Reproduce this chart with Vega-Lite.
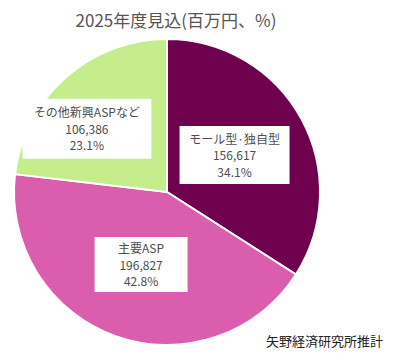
{
  "$schema": "https://vega.github.io/schema/vega-lite/v6.json",
  "width": 304,
  "height": 304,
  "padding": {"left": 10, "top": 13, "right": 5, "bottom": 5},
  "background": "white",
  "config": {"view": {"stroke": null}},
  "title": {
    "text": "2025年度見込(百万円、%)",
    "font": "Noto Sans CJK JP",
    "fontSize": 17,
    "fontWeight": "normal",
    "color": "#555555",
    "anchor": "middle",
    "frame": "group",
    "dx": 9,
    "offset": 4
  },
  "data": {
    "values": [
      {"cat": "モール型·独自型", "value": 156617, "pct": 34.1},
      {"cat": "主要ASP", "value": 196827, "pct": 42.8},
      {"cat": "その他新興ASPなど", "value": 106386, "pct": 23.1}
    ]
  },
  "transform": [
    {"joinaggregate": [{"op": "sum", "field": "value", "as": "total"}]},
    {"window": [{"op": "row_number", "as": "rk"}]},
    {"stack": "value", "groupby": [], "sort": [{"field": "rk", "order": "ascending"}], "as": ["v0", "v1"]},
    {"calculate": "PI * (datum.v0 + datum.v1) / datum.total", "as": "ang"},
    {"calculate": "datum.cat === 'その他新興ASPなど' ? 98 : 77", "as": "rr"},
    {"calculate": "datum.rr * sin(datum.ang) + (datum.cat === 'その他新興ASPなど' ? -15 : 0)", "as": "cx"},
    {"calculate": "datum.rr * cos(datum.ang) + (datum.cat === 'その他新興ASPなど' ? -10 : 0)", "as": "cy"},
    {"calculate": "datum.cat === 'その他新興ASPなど' ? 64.5 : (datum.cat === '主要ASP' ? 46.5 : 55)", "as": "hw"},
    {"calculate": "datum.cat === 'その他新興ASPなど' ? 30 : (datum.cat === '主要ASP' ? 27.5 : 29)", "as": "hh"},
    {"calculate": "datum.cx - datum.hw", "as": "bx0"},
    {"calculate": "datum.cx + datum.hw", "as": "bx1"},
    {"calculate": "datum.cy - datum.hh", "as": "by0"},
    {"calculate": "datum.cy + datum.hh", "as": "by1"},
    {"calculate": "[datum.cat, format(datum.value, ','), format(datum.pct, '.1f') + '%']", "as": "label"}
  ],
  "layer": [
    {
      "mark": {"type": "arc", "outerRadius": 153, "stroke": "white", "strokeWidth": 2},
      "encoding": {
        "theta": {"field": "value", "type": "quantitative", "stack": true, "scale": {"nice": false, "zero": true}},
        "order": {"field": "rk", "type": "quantitative", "sort": "ascending"},
        "color": {
          "field": "cat",
          "type": "nominal",
          "scale": {
            "domain": ["モール型·独自型", "主要ASP", "その他新興ASPなど"],
            "range": ["#6E004E", "#DB5EAE", "#C5ED8C"]
          },
          "legend": null
        }
      }
    },
    {
      "mark": {"type": "rect", "color": "white"},
      "encoding": {
        "x": {"field": "bx0", "type": "quantitative", "scale": {"domain": [-152, 152], "nice": false, "zero": false}, "axis": null},
        "x2": {"field": "bx1"},
        "y": {"field": "by0", "type": "quantitative", "scale": {"domain": [-152, 152], "nice": false, "zero": false}, "axis": null},
        "y2": {"field": "by1"}
      }
    },
    {
      "mark": {"type": "text", "font": "Noto Sans CJK JP", "fontSize": 12, "lineHeight": 16.5, "color": "#4d4d4d", "baseline": "middle", "align": "center", "dy": -15.5},
      "encoding": {
        "x": {"field": "cx", "type": "quantitative"},
        "y": {"field": "cy", "type": "quantitative"},
        "text": {"field": "label"}
      }
    },
    {
      "data": {"values": [{}]},
      "mark": {"type": "text", "text": "矢野経済研究所推計", "font": "Noto Sans CJK JP", "fontSize": 13, "color": "#222222", "align": "right", "baseline": "middle", "dx": 64, "dy": -2},
      "encoding": {
        "x": {"value": "width"},
        "y": {"value": "height"}
      }
    }
  ]
}
